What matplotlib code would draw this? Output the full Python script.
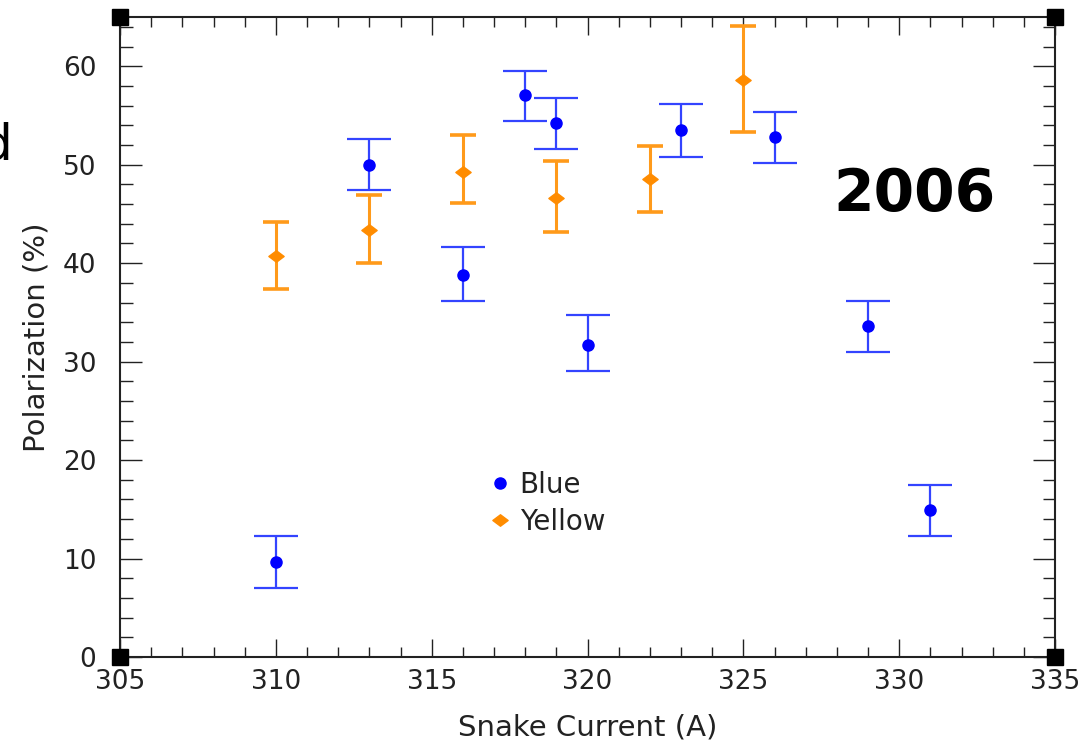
import numpy as np
import matplotlib
matplotlib.use("Agg")
import matplotlib.pyplot as plt
from matplotlib.ticker import MultipleLocator
from matplotlib.lines import Line2D
from matplotlib.path import Path

# Blue ring
blue_x = [310, 313, 316, 318, 319, 320, 323, 326, 329, 331]
blue_p = [9.6, 50.0, 38.8, 57.1, 54.2, 31.7, 53.5, 52.8, 33.6, 14.9]
blue_lo = [7.0, 47.4, 36.2, 54.4, 51.6, 29.0, 50.8, 50.2, 31.0, 12.3]
blue_hi = [12.3, 52.6, 41.6, 59.5, 56.8, 34.7, 56.2, 55.4, 36.2, 17.5]

# Yellow ring
yel_x = [310, 313, 316, 319, 322, 325]
yel_p = [40.7, 43.4, 49.3, 46.6, 48.5, 58.6]
yel_lo = [37.4, 40.0, 46.1, 43.2, 45.2, 53.3]
yel_hi = [44.2, 46.9, 53.0, 50.4, 51.9, 64.1]

blue_col = "#0000ff"
yel_col = "#ff8c00"
txt_col = "#222222"

# flat diamond like the original marker
flat_diamond = Path([(-1, 0), (0, 0.75), (1, 0), (0, -0.75), (-1, 0)],
                    [Path.MOVETO, Path.LINETO, Path.LINETO, Path.LINETO, Path.CLOSEPOLY])

fig = plt.figure(figsize=(10.87, 7.47), dpi=100)
ax = fig.add_axes([0.1104, 0.1205, 0.8602, 0.8567])

b = np.array(blue_p)
y = np.array(yel_p)
ax.errorbar(blue_x, b, yerr=[b - np.array(blue_lo), np.array(blue_hi) - b],
            fmt="o", color=blue_col, ecolor="#3344ff", elinewidth=1.6,
            capsize=16, capthick=1.6, markersize=8)
ax.errorbar(yel_x, y, yerr=[y - np.array(yel_lo), np.array(yel_hi) - y],
            fmt="none", ecolor="#ff9a1a", elinewidth=2.2,
            capsize=9.5, capthick=2.6)
ax.plot(yel_x, y, linestyle="none", marker=flat_diamond, color=yel_col, markersize=11)

ax.set_xlim(305, 335)
ax.set_ylim(0, 65)
ax.xaxis.set_major_locator(MultipleLocator(5))
ax.xaxis.set_minor_locator(MultipleLocator(1))
ax.yaxis.set_major_locator(MultipleLocator(10))
ax.yaxis.set_minor_locator(MultipleLocator(2))

ax.tick_params(which="both", direction="in", top=True, right=True, width=1.0, color=txt_col)
ax.tick_params(axis="x", which="major", length=13, pad=9, labelsize=19)
ax.tick_params(axis="x", which="minor", length=7)
ax.tick_params(axis="y", which="major", length=16, pad=17, labelsize=19)
ax.tick_params(axis="y", which="minor", length=9)
for lab in ax.get_xticklabels() + ax.get_yticklabels():
    lab.set_color(txt_col)
for s in ax.spines.values():
    s.set_linewidth(1.5)
    s.set_color(txt_col)

ax.set_xlabel("Snake Current (A)", fontsize=21, color=txt_col, labelpad=13)
ax.set_ylabel("Polarization (%)", fontsize=21, color=txt_col, labelpad=9)

# black squares at the corners of the frame
ax.plot([305, 335, 305, 335], [0, 0, 65, 65], "s", color="black",
        markersize=11, clip_on=False, zorder=5)

handles = [Line2D([], [], linestyle="none", marker="o", color=blue_col, markersize=8),
           Line2D([], [], linestyle="none", marker=flat_diamond, color=yel_col, markersize=11)]
leg = ax.legend(handles, ["Blue", "Yellow"], loc="upper left",
                bbox_to_anchor=(0.377, 0.312), frameon=False,
                fontsize=20, handletextpad=0.2, labelspacing=0.3,
                handlelength=1.0, borderpad=0)
for t in leg.get_texts():
    t.set_color(txt_col)

fig.text(0.916, 0.74, "2006", fontsize=42, fontweight="bold",
         family="DejaVu Sans", ha="right", va="center")
fig.text(0.011, 0.805, "d", fontsize=36, ha="right", va="center")

fig.savefig("out.png", dpi=100)
